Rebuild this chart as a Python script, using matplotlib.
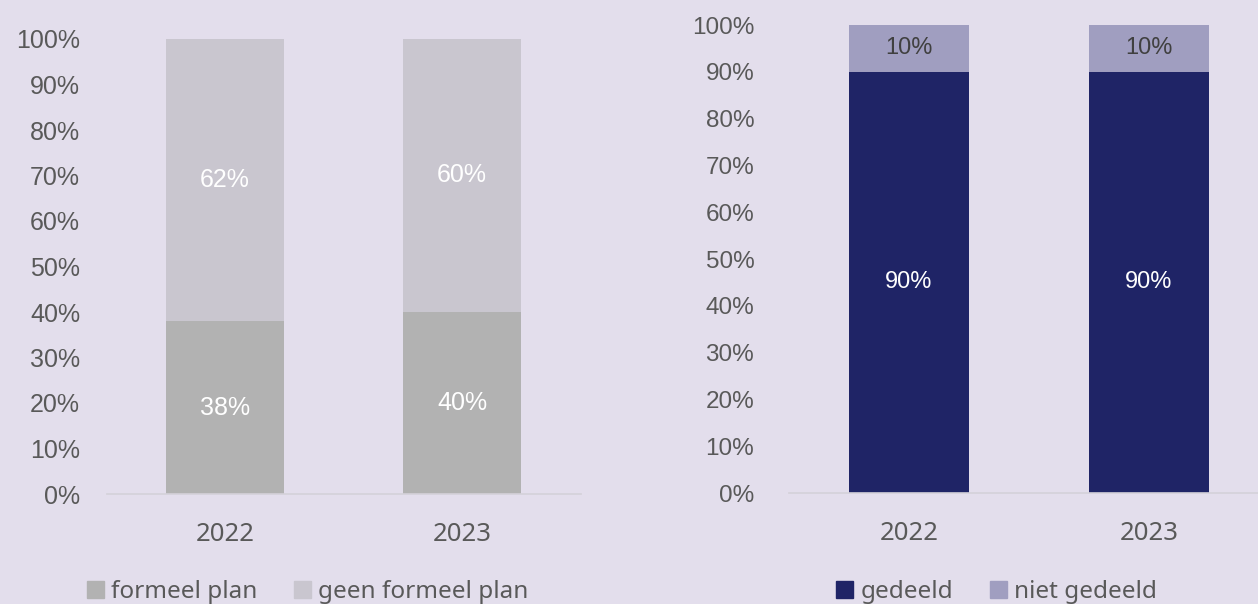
import matplotlib.pyplot as plt
import numpy as np
from matplotlib.patches import Patch

years = ['2022', '2023']
formeel = [38, 40]
geen_formeel = [62, 60]
gedeeld = [90, 90]
niet_gedeeld = [10, 10]
yticks = [0, 10, 20, 30, 40, 50, 60, 70, 80, 90, 100]

bg = '#E3DEEC'
tick_col = '#595959'
num_font = 'Liberation Sans'
txt_font = 'Noto Sans'

fig = plt.figure(figsize=(12.58, 6.04), dpi=100, facecolor=bg)

# left chart
ax1 = fig.add_axes([106.5 / 1258, 110 / 604, 474 / 1258, 455 / 604])
# right chart
ax2 = fig.add_axes([789 / 1258, 111 / 604, 480 / 1258, 468 / 604])

x = np.arange(len(years))


def style_axes(ax, ypad, fs_y):
    ax.set_facecolor(bg)
    ax.set_xlim(-0.5, 1.5)
    ax.set_ylim(0, 100)
    for s in ['top', 'right', 'left']:
        ax.spines[s].set_visible(False)
    ax.spines['bottom'].set_color('#D4D1D9')
    ax.spines['bottom'].set_linewidth(1.2)
    ax.set_yticks(yticks)
    ax.set_yticklabels([f'{t}%' for t in yticks], fontsize=fs_y,
                       family=num_font, color=tick_col)
    ax.set_xticks(x)
    ax.set_xticklabels(years, fontsize=18.5, family=txt_font, color=tick_col)
    ax.tick_params(axis='y', length=0, pad=ypad)
    ax.tick_params(axis='x', length=0, pad=20)


# left: formeel plan
ax1.bar(x, formeel, width=0.5, color='#B2B2B2', zorder=2)
ax1.bar(x, geen_formeel, width=0.5, bottom=formeel, color='#C9C6CF', zorder=2)
for i in range(len(years)):
    ax1.text(x[i], formeel[i] / 2, f'{formeel[i]}%', ha='center', va='center',
             color='white', fontsize=18, family=num_font)
    ax1.text(x[i], formeel[i] + geen_formeel[i] / 2, f'{geen_formeel[i]}%',
             ha='center', va='center', color='white', fontsize=18, family=num_font)
style_axes(ax1, 19, 18)

# right: gedeeld
ax2.bar(x, gedeeld, width=0.5, color='#1F2466', zorder=2)
ax2.bar(x, niet_gedeeld, width=0.5, bottom=gedeeld, color='#A09EC0', zorder=2)
for i in range(len(years)):
    ax2.text(x[i], gedeeld[i] / 2, f'{gedeeld[i]}%', ha='center', va='center',
             color='white', fontsize=17, family=num_font)
    ax2.text(x[i], gedeeld[i] + niet_gedeeld[i] / 2, f'{niet_gedeeld[i]}%',
             ha='center', va='center', color='#404040', fontsize=17, family=num_font)
style_axes(ax2, 25, 17.5)

leg_kw = dict(loc='center', frameon=False, ncol=2, handlelength=0.7, handleheight=0.7,
              handletextpad=0.3, columnspacing=1.5,
              prop={'family': txt_font, 'size': 17.5}, labelcolor=tick_col)
fig.legend(handles=[Patch(color='#B2B2B2', label='formeel plan'),
                    Patch(color='#C9C6CF', label='geen formeel plan')],
           bbox_to_anchor=(307.5 / 1258, 12 / 604), **leg_kw)
fig.legend(handles=[Patch(color='#1F2466', label='gedeeld'),
                    Patch(color='#A09EC0', label='niet gedeeld')],
           bbox_to_anchor=(996.5 / 1258, 12 / 604), **leg_kw)

fig.savefig('out.png', dpi=100, facecolor=bg)
